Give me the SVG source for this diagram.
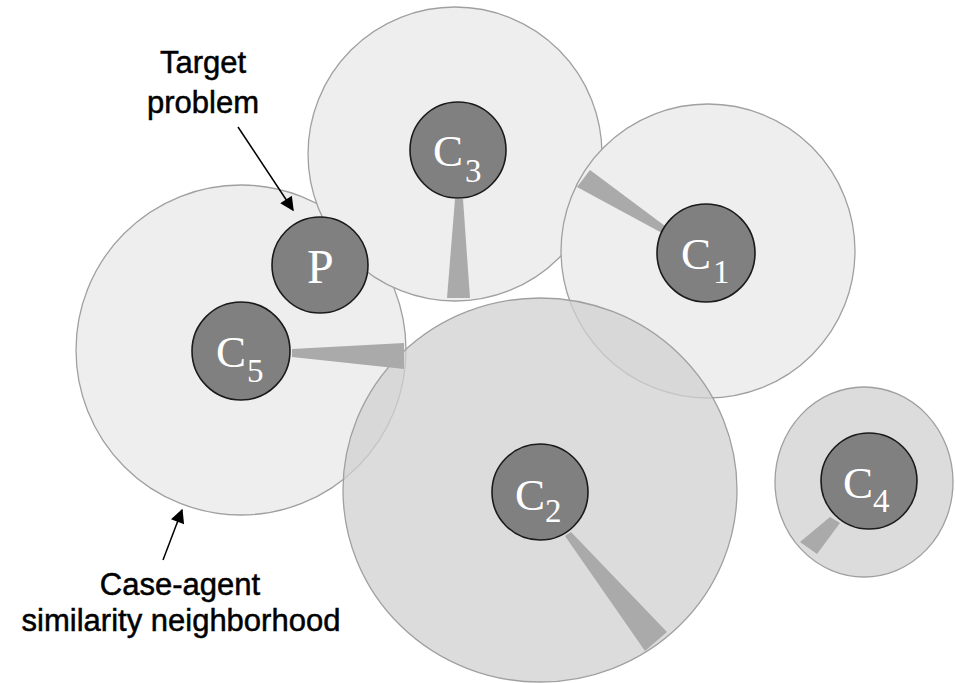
<svg xmlns="http://www.w3.org/2000/svg" width="955" height="683" viewBox="0 0 955 683">
<style>
.hood{fill:#eeeeee;stroke:#a0a0a0;stroke-width:1.3}
.hoodd{fill:#d0d0d0;fill-opacity:0.75;stroke:#a0a0a0;stroke-width:1.3}
.wedge{fill:#aaaaaa}
.case{fill:#808080;stroke:#1a1a1a;stroke-width:1.6}
.lbl{font-family:"Liberation Serif","Times New Roman",serif;fill:#ffffff;font-size:45px}
.sub{font-family:"Liberation Serif","Times New Roman",serif;fill:#ffffff;font-size:33px}
.note{font-family:"Liberation Sans",Arial,sans-serif;fill:#000;stroke:#000;stroke-width:0.5;font-size:31px;text-anchor:middle}
.arr{stroke:#000;stroke-width:1.5;fill:none;marker-end:url(#ah)}
</style>
<defs>
<marker id="ah" viewBox="0 0 10 10" refX="9" refY="5" markerWidth="15" markerHeight="14" markerUnits="userSpaceOnUse" orient="auto">
<path d="M0,0 L10,5 L0,10 z" fill="#000"/>
</marker>
</defs>
<rect width="955" height="683" fill="#ffffff"/>
<g id="neighborhoods">
<circle id="hood-c5" class="hood" cx="241" cy="350" r="165"/>
<circle id="hood-c3" class="hood" cx="455" cy="154" r="147"/>
<circle id="hood-c1" class="hood" cx="708" cy="251" r="147"/>
<ellipse id="hood-c2" class="hoodd" cx="540" cy="490" rx="197" ry="192"/>
<ellipse id="hood-c4" class="hoodd" cx="864" cy="482" rx="89" ry="95"/>
</g>
<g id="connectors">
<polygon class="wedge" points="455,199 463,199 470,298 447,298"/>
<polygon class="wedge" points="590,170 577,187 662,233 665,226"/>
<polygon class="wedge" points="292,349 292,357 404,369 404,343"/>
<polygon class="wedge" points="565,536 571,532 667,632 645,651"/>
<polygon class="wedge" points="830,517 840,523 817,554 800,542"/>
<line class="arr" x1="238" y1="127" x2="293" y2="210"/>
<line class="arr" x1="163" y1="560" x2="182" y2="510"/>
</g>
<g id="node-c3"><circle class="case" cx="458" cy="150" r="48"/><text class="lbl" x="433" y="166">C</text><text class="sub" x="465" y="182">3</text></g>
<g id="node-c1"><circle class="case" cx="706" cy="253" r="49"/><text class="lbl" x="681" y="269">C</text><text class="sub" x="713" y="283">1</text></g>
<g id="node-p"><circle class="case" cx="320" cy="265" r="48"/><text class="lbl" x="307" y="283" style="font-size:48px">P</text></g>
<g id="node-c5"><circle class="case" cx="241" cy="351" r="49"/><text class="lbl" x="216" y="367">C</text><text class="sub" x="247" y="382">5</text></g>
<g id="node-c2"><circle class="case" cx="540" cy="492" r="48"/><text class="lbl" x="515" y="510">C</text><text class="sub" x="545" y="522">2</text></g>
<g id="node-c4"><circle class="case" cx="869" cy="481" r="48"/><text class="lbl" x="843" y="498">C</text><text class="sub" x="873" y="512">4</text></g>
<g id="label-target"><text class="note" x="203" y="73">Target</text><text class="note" x="203" y="113">problem</text></g>
<g id="label-hood"><text class="note" x="180" y="595">Case-agent</text><text class="note" x="181" y="631">similarity neighborhood</text></g>
</svg>
